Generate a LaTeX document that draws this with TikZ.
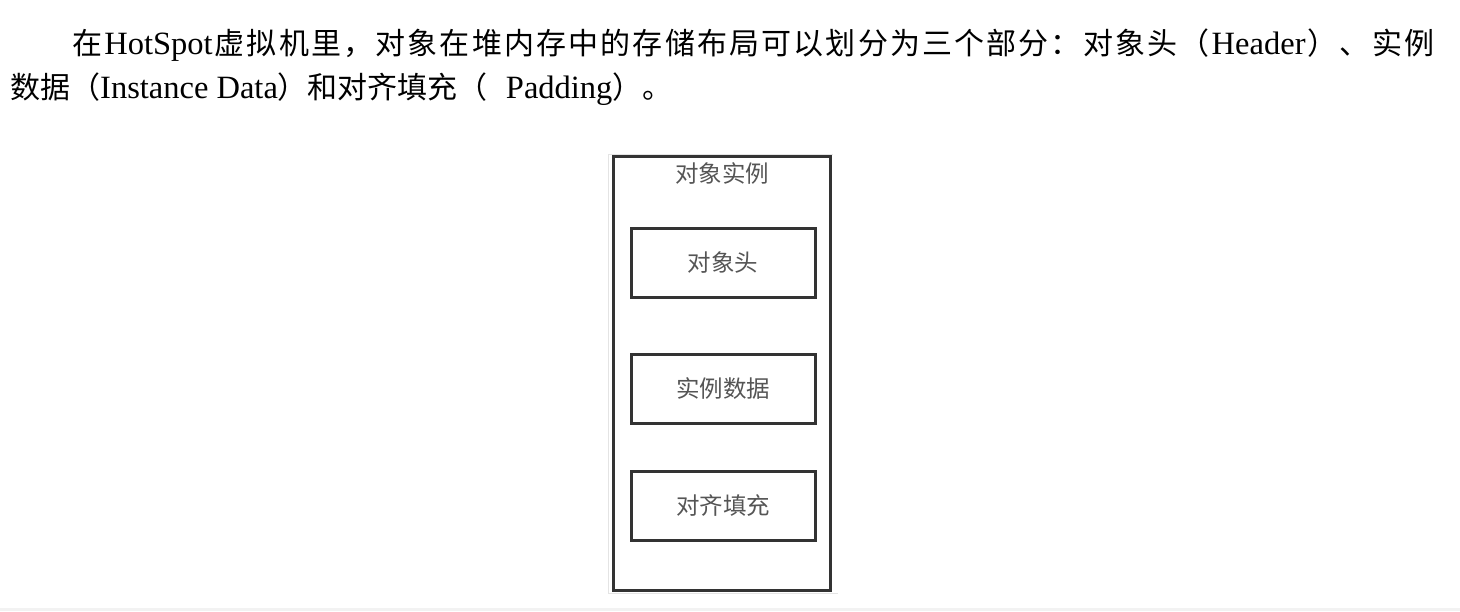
\documentclass[tikz,border=0pt]{standalone}
\usepackage{fontspec}
\setmainfont{Liberation Serif}
\newfontfamily\cjk{Noto Sans CJK SC}
\newfontfamily\lbl{Noto Sans CJK SC}
\newcommand\latseg[1]{{\rmfamily\fontsize{32.5}{44}\selectfont #1}}
\definecolor{boxline}{HTML}{333333}
\definecolor{lblgray}{HTML}{555555}
\definecolor{faint}{HTML}{E4E4E4}
\definecolor{band}{HTML}{F2F2F2}
\begin{document}
\begin{tikzpicture}[x=1pt,y=-1pt,
  innerbox/.style={draw=boxline,line width=3pt,minimum width=184pt,minimum height=69pt,inner sep=0pt},
  lbltext/.style={text=lblgray,font=\lbl\fontsize{23.5}{26}\selectfont,inner sep=0pt},
  paraline/.style={font=\cjk\fontsize{30}{44}\selectfont,inner sep=0pt,anchor=base west}]
\useasboundingbox (0,0) rectangle (1460,611);
\fill[band] (0,607.5) rectangle (1460,611);
% paragraph
\node[paraline] (line1) at (72,54.5) {\spaceskip=0pt plus 1fil\relax\hbox to 1362pt{在 \latseg{HotSpot} 虚 拟 机 里 ， 对 象 在 堆 内 存 中 的 存 储 布 局 可 以 划 分 为 三 个 部 分 ： 对 象 头 （ \latseg{Header} ） 、 实 例}};
\node[paraline] (line2) at (10,98.5) {数据（\latseg{Instance Data}）和对齐填充（\hspace{18pt}\latseg{Padding}）。};
% faint image frame
\draw[faint,line width=1pt] (608,154) -- (833,154);
\draw[faint,line width=1pt] (608,154) -- (608,593.5) -- (838,593.5);
% outer box
\node[draw=boxline,line width=2.8pt,minimum width=217pt,minimum height=434pt,inner sep=0pt] (outer) at (722,373.5) {};
\node[lbltext] (title) at (722,173) {对象实例};
\node[innerbox] (hdr) at (723,262.5) {};
\node[lbltext] at (hdr.center) {对象头};
\node[innerbox] (inst) at (723,389) {};
\node[lbltext] at (inst.center) {实例数据};
\node[innerbox] (pad) at (723,505.5) {};
\node[lbltext] at (pad.center) {对齐填充};
\end{tikzpicture}
\end{document}
